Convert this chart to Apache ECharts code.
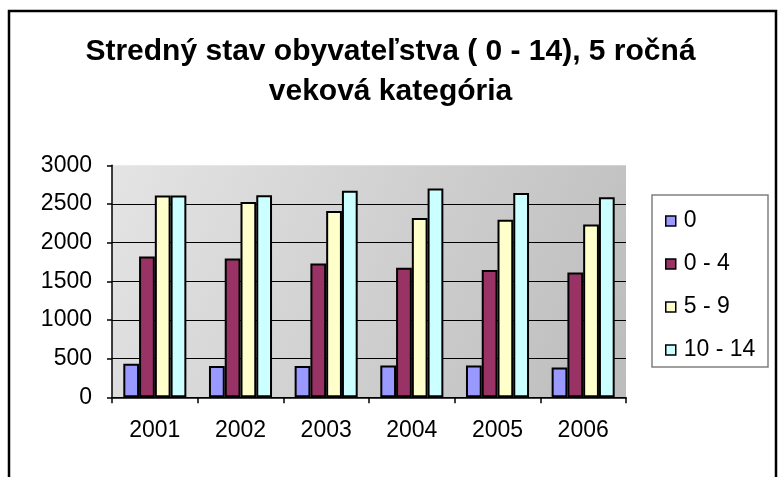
<!DOCTYPE html>
<html>
<head>
<meta charset="utf-8">
<script src="https://cdn.jsdelivr.net/npm/echarts@6/dist/echarts.min.js"></script>
<style>html,body{margin:0;padding:0;background:#fff;}#c{width:781px;height:477px;}</style>
</head>
<body>
<div id="c"></div>
<script>
var titleText = 'Stredný stav obyvateľstva ( 0 - 14), 5 ročná\nveková kategória';
var categories = ['2001', '2002', '2003', '2004', '2005', '2006'];
var seriesNames = ['0', '0 - 4', '5 - 9', '10 - 14'];
var s0 = [435, 405, 405, 410, 410, 385];
var s0_4 = [1820, 1795, 1730, 1675, 1645, 1615];
var s5_9 = [2610, 2525, 2410, 2320, 2295, 2235];
var s10_14 = [2610, 2612, 2672, 2700, 2642, 2588];
var yTicks = [0, 500, 1000, 1500, 2000, 2500, 3000];
var colors = ['#9999FF', '#993366', '#FFFFCC', '#CCFFFF'];

var chart = echarts.init(document.getElementById('c'), null, {renderer: 'canvas'});
var font = 'Liberation Sans, Arial, sans-serif';
var dataSets = [s0, s0_4, s5_9, s10_14];
var series = dataSets.map(function (d, i) {
  return {
    name: seriesNames[i],
    type: 'bar',
    data: d,
    barGap: '0%',
    barCategoryGap: '26.4%',
    itemStyle: {color: colors[i], borderColor: '#000', borderWidth: 2},
    emphasis: {disabled: true}
  };
});
chart.setOption({
  animation: false,
  textStyle: {fontFamily: font},
  title: {
    text: titleText,
    left: 'center',
    top: 27,
    textStyle: {fontFamily: font, fontSize: 30, fontWeight: 'bold', color: '#000', lineHeight: 40}
  },
  graphic: [
    {type: 'rect', shape: {x: 9, y: 11, width: 767, height: 480}, style: {fill: 'none', stroke: '#000', lineWidth: 2.5}, silent: true},
    {type: 'rect', shape: {x: 652, y: 195, width: 116, height: 172}, style: {fill: '#fff', stroke: '#808080', lineWidth: 1.5}, silent: true, z: -1}
  ],
  legend: {
    orient: 'vertical',
    left: 660,
    top: 204,
    itemWidth: 10,
    itemHeight: 10,
    itemGap: 19,
    icon: 'rect',
    data: seriesNames,
    textStyle: {fontFamily: font, fontSize: 23, color: '#000', lineHeight: 24, padding: [0, 0, 0, 3]},
    itemStyle: {borderColor: '#000', borderWidth: 1.5}
  },
  grid: {
    left: 112, top: 165.3, width: 514, height: 232,
    show: true,
    borderWidth: 0,
    backgroundColor: new echarts.graphic.LinearGradient(0, 0, 1, 1, [
      {offset: 0, color: '#e4e4e4'},
      {offset: 1, color: '#bcbcbc'}
    ])
  },
  xAxis: {
    type: 'category',
    data: categories,
    axisLine: {lineStyle: {color: '#000', width: 1.5}},
    axisTick: {show: true, length: 6, lineStyle: {color: '#000', width: 1.5}},
    axisLabel: {color: '#000', fontSize: 23, fontFamily: font, margin: 22}
  },
  yAxis: {
    type: 'value',
    min: yTicks[0],
    max: yTicks[yTicks.length - 1],
    interval: yTicks[1] - yTicks[0],
    axisLine: {show: true, lineStyle: {color: '#000', width: 1.5}},
    axisTick: {show: true, length: 5, lineStyle: {color: '#000', width: 1.5}},
    axisLabel: {color: '#000', fontSize: 23, fontFamily: font, margin: 20, formatter: function (v) { return String(v); }},
    splitLine: {show: true, lineStyle: {color: ['#000', '#000', '#000', '#000', '#000', '#000', 'rgba(0,0,0,0)'], width: 1}}
  },
  series: series
});
</script>
</body>
</html>
